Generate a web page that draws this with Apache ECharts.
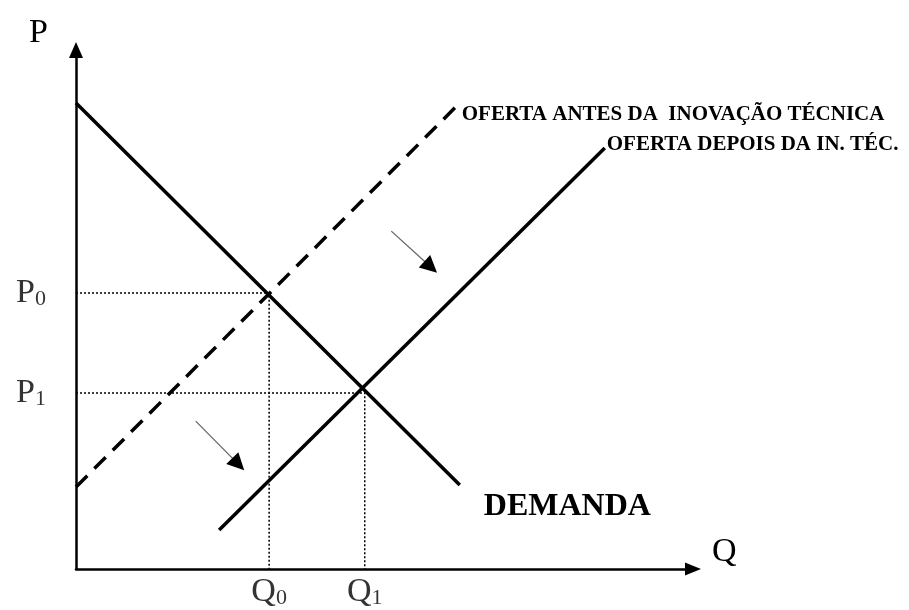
<!DOCTYPE html>
<html lang="pt">
<head>
    <meta charset="UTF-8">
    <title>Oferta e demanda</title>
    <style>
        *{ margin:0; padding:0; }
        #box{ width:909px; height:610px; background:#fff; }
    </style>
    <script src="https://cdn.jsdelivr.net/npm/echarts@6/dist/echarts.min.js"></script>
</head>
<body>
    <div id="box"></div>
    <script>
        // valores (Q, P)
        var demanda = [[0, 8.98], [6.22, 1.62]];
        var ofertaAntes = [[0, 1.58], [6.22, 8.98]];
        var ofertaDepois = [[2.32, 0.75], [8.57, 8.11]];
        var eq0 = [3.13, 5.32];
        var eq1 = [4.68, 3.39];
        var setas = [
            [[5.11, 6.51], [5.75, 5.82]],
            [[1.94, 2.85], [2.63, 2.02]]
        ];
        var nomes = ['OFERTA ANTES DA  INOVAÇÃO TÉCNICA', 'OFERTA DEPOIS DA IN. TÉC.', 'DEMANDA'];

        var serif = '"Liberation Serif", "DejaVu Serif", serif';
        var myChart = echarts.init(document.getElementById('box'));

        function tracejado(p){
            return [[0, p[1]], [p[0], p[1]], [p[0], 0]];
        }
        function rotulo(texto, offset, size){
            return { show: true, position: 'right', distance: 4, offset: offset, formatter: texto,
                fontFamily: serif, fontWeight: 'bold', fontSize: size, color: '#000' };
        }
        var subRich = {
            a: { fontFamily: serif, fontSize: 34, color: '#000' },
            b: { fontFamily: serif, fontSize: 22, color: '#000', verticalAlign: 'bottom', padding: [12, 0, 0, 0] }
        };

        var option = {
            animation: false,
            grid: { left: 76, right: 216, top: 50, bottom: 41 },
            xAxis: {
                type: 'value', min: 0, max: 10,
                name: 'Q', nameLocation: 'end', nameGap: 19,
                nameTextStyle: { fontFamily: serif, fontSize: 34, color: '#000', verticalAlign: 'bottom' },
                axisLine: { lineStyle: { color: '#000', width: 2.5 }, symbol: ['none', 'triangle'], symbolSize: [13, 16] },
                axisTick: { show: false }, axisLabel: { show: false }, splitLine: { show: false }
            },
            yAxis: {
                type: 'value', min: 0, max: 10,
                name: 'P', nameLocation: 'end', nameGap: 0,
                nameTextStyle: { fontFamily: serif, fontSize: 34, color: '#000', align: 'right', padding: [0, 28, 0, 0] },
                axisLine: { lineStyle: { color: '#000', width: 2.5 }, symbol: ['none', 'triangle'], symbolSize: [14, 16] },
                axisTick: { show: false }, axisLabel: { show: false }, splitLine: { show: false }
            },
            series: [
                {
                    type: 'line', data: tracejado(eq0), symbol: 'none', silent: true,
                    lineStyle: { color: '#000', width: 1.5, type: [2, 2] }
                },
                {
                    type: 'line', data: tracejado(eq1), symbol: 'none', silent: true,
                    lineStyle: { color: '#000', width: 1.5, type: [2, 2] }
                },
                {
                    type: 'line', symbol: 'circle', symbolSize: 0, silent: true,
                    lineStyle: { color: '#000', width: 3.5 },
                    data: [demanda[0], { value: demanda[1], label: rotulo(nomes[2], [20, 22], 32) }]
                },
                {
                    type: 'line', symbol: 'circle', symbolSize: 0, silent: true,
                    lineStyle: { color: '#000', width: 3.5, type: [16, 10] },
                    data: [ofertaAntes[0], { value: ofertaAntes[1], label: rotulo(nomes[0], [-2, 12], 21) }]
                },
                {
                    type: 'line', symbol: 'circle', symbolSize: 0, silent: true,
                    lineStyle: { color: '#000', width: 3.5 },
                    data: [ofertaDepois[0], { value: ofertaDepois[1], label: rotulo(nomes[1], [-2, -4], 21) }]
                },
                {
                    type: 'lines', coordinateSystem: 'cartesian2d', silent: true,
                    symbol: 'none',
                    lineStyle: { color: '#666', width: 1.3, opacity: 1 },
                    data: setas.map(function(s){ return { coords: s }; })
                },
                {
                    type: 'lines', coordinateSystem: 'cartesian2d', silent: true,
                    symbol: ['none', 'triangle'], symbolSize: [14, 17],
                    lineStyle: { color: '#000', width: 0, opacity: 1 },
                    data: setas.map(function(s){ return { coords: s }; })
                },
                {
                    type: 'scatter', symbolSize: 0, silent: true,
                    label: {
                        show: true, position: 'left', distance: 30, color: '#000',
                        formatter: function(p){ return '{a|P}{b|' + p.data[2] + '}'; },
                        rich: subRich
                    },
                    data: [[0, eq0[1], 0], [0, eq1[1], 1]]
                },
                {
                    type: 'scatter', symbolSize: 0, silent: true,
                    label: {
                        show: true, position: 'bottom', distance: 6, color: '#000',
                        formatter: function(p){ return '{a|Q}{b|' + p.data[2] + '}'; },
                        rich: subRich
                    },
                    data: [[eq0[0], 0, 0], [eq1[0], 0, 1]]
                }
            ]
        };
        myChart.setOption(option);
    </script>
</body>
</html>
